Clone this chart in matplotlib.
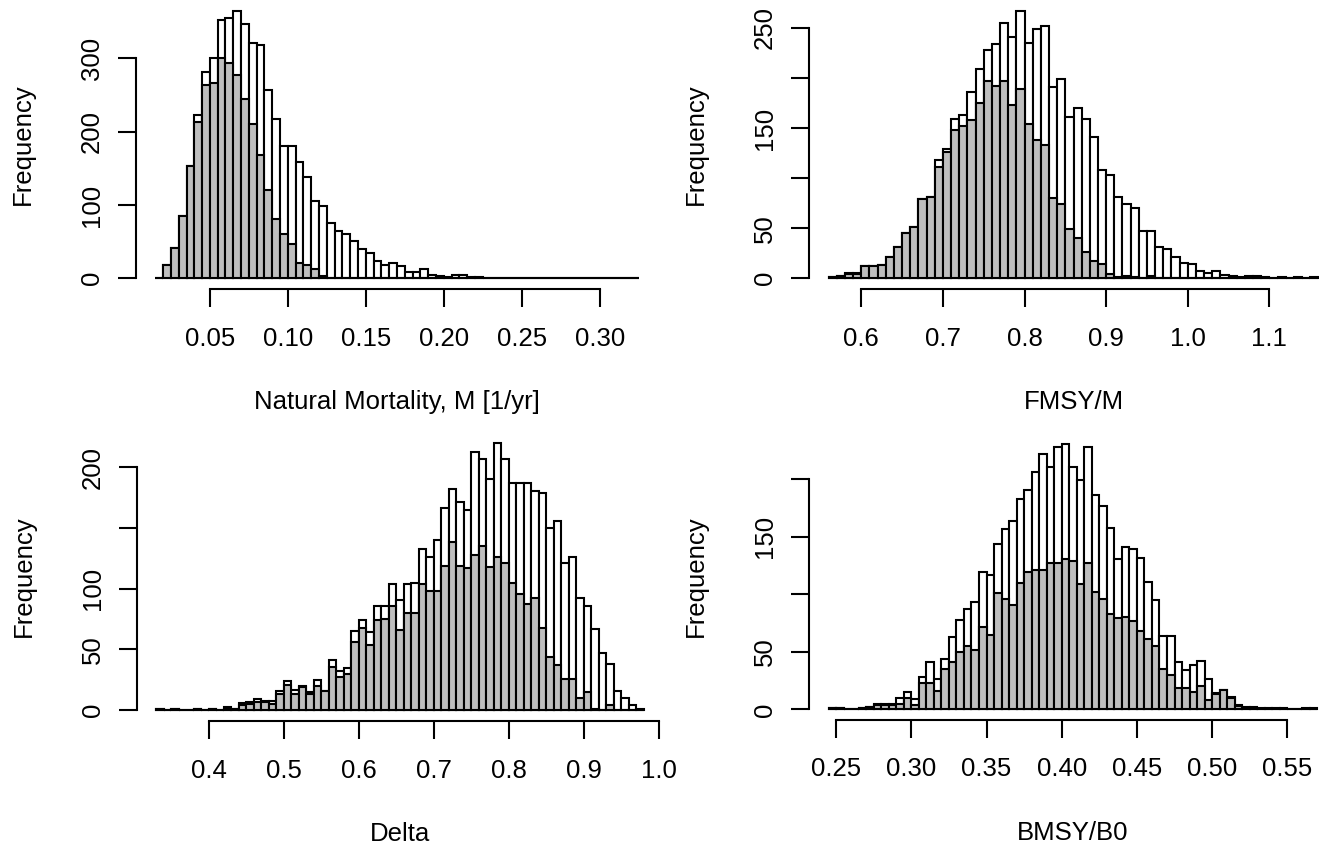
import numpy as np
import matplotlib
matplotlib.use("Agg")
import matplotlib.pyplot as plt

# ---- data: bin counts (white = all draws, grey = subset) ----
# Natural mortality, bins of 0.005 from 0.015
m_start, m_width = 0.015, 0.005
m_all = [0, 18, 42, 85, 153, 223, 282, 301, 353, 355, 365, 347, 321, 318, 257, 217,
         180, 180, 158, 138, 106, 99, 76, 64, 61, 51, 40, 35, 23, 18, 21, 17, 9, 9, 12,
         5, 3, 2, 5, 5, 2, 2, 1, 1, 0, 0, 1, 0, 1, 1, 1, 0, 0, 0, 0, 1, 0, 0, 0, 0, 0, 1]
m_sub = [0, 18, 42, 85, 153, 213, 264, 266, 300, 293, 277, 244, 210, 168, 121, 81,
         60, 47, 21, 18, 12, 3, 1, 1] + [0] * 38

# FMSY/M, bins of 0.01 from 0.56
f_start, f_width = 0.56, 0.01
f_all = [1, 2, 5, 5, 12, 12, 13, 21, 31, 45, 51, 79, 81, 118, 129, 159, 163, 186, 209,
         228, 234, 255, 241, 267, 235, 249, 252, 191, 199, 161, 170, 159, 141, 108, 103,
         81, 74, 70, 47, 47, 31, 29, 21, 15, 14, 7, 5, 7, 3, 2, 1, 2, 2, 1, 0, 1, 0, 1, 0, 1]
f_sub = [1, 2, 4, 4, 12, 12, 13, 21, 31, 45, 51, 79, 81, 111, 126, 148, 152, 158, 175,
         197, 192, 197, 173, 189, 154, 138, 133, 80, 74, 49, 40, 26, 17, 14, 4, 1, 2, 1,
         0, 2] + [0] * 20

# Delta, bins of 0.01 from 0.33
d_start, d_width = 0.33, 0.01
d_all = [1, 0, 1, 0, 0, 1, 0, 1, 0, 3, 1, 6, 7, 9, 8, 8, 16, 24, 17, 20, 15, 25, 16,
         41, 32, 35, 65, 74, 64, 86, 86, 104, 91, 104, 105, 133, 126, 140, 166, 182, 171,
         165, 212, 207, 190, 220, 207, 187, 187, 187, 180, 179, 150, 156, 121, 126, 92,
         86, 67, 47, 38, 16, 10, 4, 1]
d_sub = [1, 0, 1, 0, 0, 1, 0, 1, 0, 1, 1, 4, 5, 7, 7, 5, 13, 21, 13, 19, 13, 20, 16,
         36, 27, 30, 56, 68, 54, 74, 75, 86, 66, 80, 80, 104, 98, 98, 119, 138, 119, 117,
         128, 135, 118, 126, 121, 105, 96, 87, 92, 68, 44, 37, 26, 26, 10, 15, 1, 0, 4,
         0, 0, 0, 0]

# BMSY/B0, bins of 0.005 from 0.245
b_start, b_width = 0.245, 0.005
b_all = [1, 1, 0, 0, 1, 2, 5, 5, 5, 10, 15, 9, 28, 41, 26, 44, 63, 78, 87, 93, 119,
         117, 144, 157, 164, 183, 191, 206, 222, 211, 228, 231, 211, 199, 228, 186, 177,
         158, 131, 141, 139, 132, 111, 95, 64, 64, 41, 34, 39, 42, 26, 14, 17, 11, 4, 2,
         2, 1, 1, 1, 1, 0, 0, 1, 1]
b_sub = [1, 1, 0, 0, 1, 2, 4, 4, 4, 5, 10, 4, 23, 23, 16, 35, 41, 50, 55, 52, 72, 65,
         101, 96, 91, 110, 119, 121, 121, 127, 127, 131, 129, 109, 127, 102, 96, 83, 79,
         80, 77, 68, 61, 55, 35, 30, 19, 19, 15, 20, 8, 13, 17, 10, 3, 1, 1, 0, 0, 0, 0,
         0, 0, 0, 0]

plt.rcParams['font.family'] = ['Liberation Sans', 'DejaVu Sans']
FS = 18.5
W, H = 1319, 850


def px_rect(left, top, right, bottom):
    # pixel box (from top-left) -> figure fraction rect
    return [left / W, 1 - bottom / H, (right - left) / W, (bottom - top) / H]


def panel(fig, box, start, width, all_counts, sub_counts, xticks, xfmt, yticks,
          ylabels, xlabel):
    ax = fig.add_axes(px_rect(*box))
    n = len(all_counts)
    edges = start + width * np.arange(n)
    ax.bar(edges, all_counts, width=width, align='edge', color='white',
           edgecolor='black', linewidth=1.5)
    ax.bar(edges, sub_counts, width=width, align='edge', color='#bebebe',
           edgecolor='black', linewidth=1.5)

    # R style limits: range plus 4% each side
    lo, hi = start, start + width * n
    pad = 0.04 * (hi - lo)
    ax.set_xlim(lo - pad, hi + pad)
    ymax = max(all_counts)
    ax.set_ylim(-0.04 * ymax, 1.04 * ymax)

    for s in ['top', 'right']:
        ax.spines[s].set_visible(False)
    ax.spines['left'].set_bounds(yticks[0], yticks[-1])
    ax.spines['bottom'].set_bounds(xticks[0], xticks[-1])
    for s in ['left', 'bottom']:
        ax.spines[s].set_linewidth(1.5)

    ax.set_xticks(xticks)
    ax.set_xticklabels([xfmt % v for v in xticks])
    ax.set_yticks(yticks)
    ax.set_yticklabels(ylabels, rotation=90, va='center')
    ax.tick_params(axis='both', length=13, width=1.5, labelsize=FS)
    ax.tick_params(axis='x', pad=14)
    ax.tick_params(axis='y', pad=10)

    wpx = box[2] - box[0]
    hpx = box[3] - box[1]
    ax.set_xlabel(xlabel, fontsize=FS, va='center')
    ax.xaxis.set_label_coords(0.5, -113 / hpx)
    ax.set_ylabel('Frequency', fontsize=FS, va='center')
    ax.yaxis.set_label_coords(-113 / wpx, 0.5)
    return ax


fig = plt.figure(figsize=(W / 100, H / 100), dpi=100)

panel(fig, (136, 0, 658, 289), m_start, m_width, m_all, m_sub,
      [0.05, 0.10, 0.15, 0.20, 0.25, 0.30], '%.2f',
      [0, 100, 200, 300], ['0', '100', '200', '300'],
      'Natural Mortality, M [1/yr]')
panel(fig, (809, 0, 1338, 289), f_start, f_width, f_all, f_sub,
      [0.6, 0.7, 0.8, 0.9, 1.0, 1.1], '%.1f',
      [0, 50, 100, 150, 200, 250], ['0', '50', '', '150', '', '250'],
      'FMSY/M')
panel(fig, (137, 432, 663, 721), d_start, d_width, d_all, d_sub,
      [0.4, 0.5, 0.6, 0.7, 0.8, 0.9, 1.0], '%.1f',
      [0, 50, 100, 150, 200], ['0', '50', '100', '', '200'],
      'Delta')
panel(fig, (809, 433, 1337, 720), b_start, b_width, b_all, b_sub,
      [0.25, 0.30, 0.35, 0.40, 0.45, 0.50, 0.55], '%.2f',
      [0, 50, 100, 150, 200], ['0', '50', '', '150', ''],
      'BMSY/B0')

fig.savefig('out.png', dpi=100)
